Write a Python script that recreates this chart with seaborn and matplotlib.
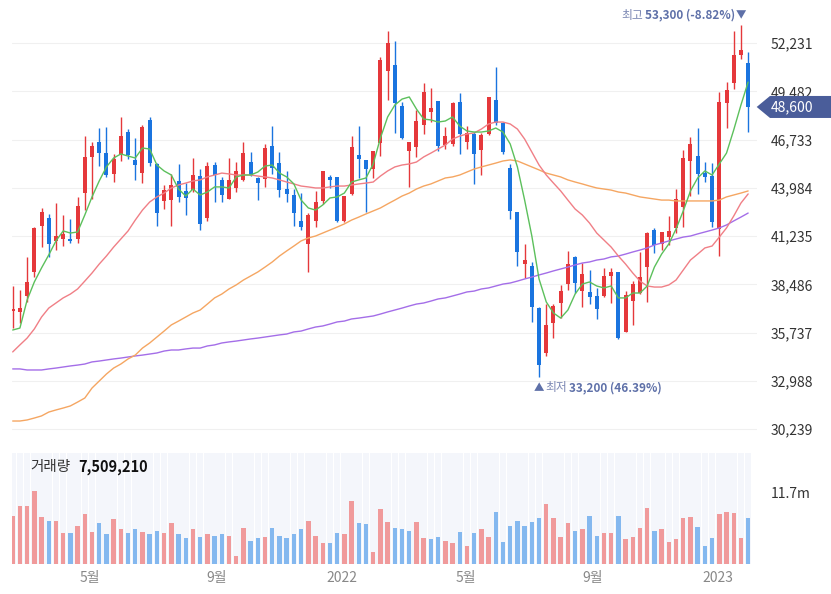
import numpy as np
import pandas as pd
import matplotlib
matplotlib.use("Agg")
import matplotlib.pyplot as plt
import matplotlib.dates as mdates
from matplotlib.patches import Polygon
import seaborn as sns

# 주봉 (2021-02-15 ~ 2023-01-30)
weeks = pd.date_range("2021-02-15", periods=103, freq="7D")

open_p = [36950, 36900, 37800, 39200, 41800, 42250, 40950, 41050, 41050, 41050,
          43700, 45750, 46600, 46000, 44800, 45850, 47150, 45600, 44850, 47850,
          45350, 43250, 43300, 44400, 43800, 43850, 44650, 42250, 45300, 44450,
          43350, 44000, 44450, 45450, 44550, 44500, 46350, 45400, 43950, 43600,
          42100, 40800, 42100, 43250, 44600, 44600, 42100, 43650, 45850, 45600,
          45050, 46550, 50650, 51000, 48650, 46100, 46300, 47550, 48300, 48950,
          46450, 46500, 48900, 46600, 47050, 46150, 47050, 49000, 47700, 45100,
          42600, 39650, 39550, 37150, 34550, 36300, 37400, 38500, 40050, 38100,
          38050, 37800, 37800, 38950, 39200, 35750, 37550, 38000, 39450, 41600,
          40800, 41200, 41700, 42900, 45500, 45800, 44850, 44650, 41650, 48850,
          49950, 51550, 51100]
high_p = [38400, 38150, 40050, 41750, 42850, 42500, 43100, 42450, 42200, 43450,
          46950, 46600, 47400, 47450, 45900, 48050, 47350, 46850, 47550, 48050,
          45400, 44150, 44800, 45350, 44250, 45700, 45050, 45450, 45450, 44600,
          45700, 45450, 46600, 46050, 44600, 46500, 47500, 46050, 44950, 43900,
          43700, 42550, 43800, 44950, 44700, 44600, 43500, 46950, 47500, 45600,
          46100, 51450, 52950, 52350, 48900, 46600, 48450, 49950, 49700, 48950,
          47450, 48900, 49400, 47500, 47150, 47100, 49150, 50900, 47750, 45350,
          42600, 40800, 39750, 37200, 37350, 37350, 38450, 40400, 40100, 39700,
          39300, 38300, 39400, 39400, 39200, 38100, 38700, 40350, 41450, 41700,
          41450, 42400, 43900, 46150, 46900, 47400, 45450, 45400, 49450, 50000,
          52950, 53300, 51750]
low_p = [36000, 36300, 37500, 38900, 40600, 40050, 40450, 40650, 40850, 40850,
         42700, 43350, 45250, 44600, 44300, 45500, 45650, 44450, 44250, 45250,
         41800, 42800, 41800, 43200, 42450, 43750, 41600, 42100, 43200, 43200,
         43350, 43750, 44400, 44650, 43300, 44050, 44800, 43450, 43200, 41800,
         41600, 39200, 41750, 43050, 44000, 42050, 42050, 43600, 44550, 42600,
         44550, 45800, 49000, 47100, 46750, 44050, 45750, 47050, 47750, 46100,
         46200, 46350, 45900, 46200, 44200, 44700, 47000, 47550, 45900, 42200,
         39550, 38850, 36350, 33200, 34400, 35400, 36550, 38150, 38000, 37200,
         37350, 36500, 37750, 37400, 35350, 35750, 36150, 37950, 37500, 40250,
         40450, 40750, 41400, 41750, 43500, 43650, 44300, 41750, 40100, 47400,
         49600, 51350, 47150]
close_p = [37100, 37150, 38600, 41700, 42600, 40800, 41250, 41350, 40950, 42950,
           45750, 46350, 46000, 44700, 45650, 46950, 45850, 45300, 47450, 45400,
           42550, 43850, 44150, 43450, 43400, 44700, 41950, 45250, 44700, 43600,
           44450, 44950, 46000, 44700, 44250, 46250, 45100, 43850, 43650, 42550,
           41750, 42450, 43200, 44950, 44450, 42100, 43500, 46300, 45650, 45050,
           46100, 51300, 52250, 48850, 46850, 46600, 47800, 49450, 48550, 46350,
           46950, 48850, 47050, 47100, 45900, 47000, 49150, 47700, 46050, 42650,
           40350, 39850, 37200, 33900, 36150, 37250, 38100, 39650, 38550, 39050,
           37750, 37100, 38950, 39200, 35400, 37900, 38500, 38900, 41400, 40750,
           41450, 41500, 43350, 45700, 46500, 44800, 44600, 42050, 48900, 49550,
           51550, 51850, 48600]

# 거래량 (백만 주)
volume_m = [7.88, 9.50, 9.50, 11.93, 7.72, 7.07, 7.07, 5.07, 5.07, 6.26,
            8.10, 5.29, 6.69, 4.86, 7.29, 5.67, 5.07, 5.67, 5.29, 4.86,
            5.45, 5.07, 6.69, 4.86, 4.26, 5.67, 4.42, 4.86, 4.64, 4.86,
            4.64, 1.40, 5.88, 3.83, 4.26, 4.42, 5.88, 4.64, 4.26, 4.86,
            5.67, 7.07, 4.64, 3.45, 3.45, 5.07, 4.86, 10.31, 6.69, 6.48,
            1.99, 8.91, 6.91, 5.88, 5.67, 5.45, 6.91, 4.26, 4.05, 4.42,
            3.83, 3.45, 5.29, 3.02, 5.07, 5.67, 4.42, 8.53, 3.61, 6.26,
            7.07, 6.26, 6.91, 7.50, 9.77, 7.50, 4.42, 6.69, 5.45, 5.67,
            7.88, 4.64, 5.07, 5.07, 7.88, 4.05, 4.42, 5.88, 9.12, 5.45,
            5.67, 3.61, 4.05, 7.50, 7.72, 6.04, 3.02, 4.26, 8.10, 8.53,
            8.31, 4.26, 7.51]
volume_now = 7509210

# 이동평균선 (5, 20, 60, 120주)
ma5 = [35880, 35990, 37590, 38620, 39420, 40160, 40960, 41530, 41410, 41470,
       42440, 43470, 44380, 45180, 45690, 45920, 45800, 45690, 46260, 46200,
       45290, 44950, 44720, 43920, 43520, 43920, 43580, 43750, 44040, 44040,
       43980, 44610, 44720, 44720, 44890, 45230, 45290, 44830, 44610, 44210,
       43290, 42840, 42720, 43010, 43410, 43470, 43690, 44320, 44440, 44550,
       45350, 46830, 48030, 48710, 49050, 49170, 48480, 47910, 47860, 47740,
       47800, 48030, 47510, 47230, 47170, 47170, 47230, 47400, 47170, 46490,
       45180, 43290, 41240, 38790, 37480, 36850, 36560, 37020, 37930, 38500,
       38620, 38390, 38280, 38390, 37710, 37710, 37990, 37990, 38390, 39470,
       40210, 40790, 41640, 42670, 43810, 44550, 44950, 44720, 45350, 45970,
       47290, 48710, 50020]
ma20 = [34630, 35030, 35420, 35940, 36620, 37130, 37420, 37710, 37930, 38220,
        38670, 39130, 39640, 40100, 40610, 41070, 41530, 42150, 42720, 43180,
        43470, 43690, 43980, 44150, 44260, 44380, 44440, 44610, 44720, 44830,
        44780, 44720, 44720, 44720, 44660, 44610, 44550, 44440, 44320, 44210,
        44090, 44040, 43980, 43980, 44040, 44090, 44090, 44150, 44210, 44260,
        44320, 44660, 44950, 45180, 45290, 45350, 45460, 45750, 45970, 46200,
        46430, 46770, 46940, 47060, 47120, 47340, 47630, 47740, 47740, 47630,
        47340, 46770, 46030, 45290, 44720, 44260, 43810, 43290, 42780, 42440,
        41980, 41410, 41010, 40610, 40100, 39640, 39130, 38670, 38390, 38330,
        38330, 38450, 38730, 39300, 39870, 40210, 40560, 40670, 41180, 41700,
        42380, 43120, 43640]
ma60 = [30690, 30690, 30750, 30860, 30980, 31200, 31320, 31430, 31550, 31770,
        32000, 32570, 32970, 33370, 33710, 33940, 34230, 34450, 34850, 35140,
        35480, 35820, 36170, 36390, 36620, 36850, 37020, 37360, 37710, 37930,
        38220, 38450, 38730, 38960, 39190, 39470, 39760, 40100, 40390, 40670,
        40960, 41130, 41240, 41410, 41580, 41750, 41930, 42150, 42320, 42500,
        42670, 42840, 43070, 43290, 43520, 43690, 43920, 44090, 44210, 44380,
        44550, 44610, 44720, 44890, 45060, 45180, 45290, 45400, 45520, 45580,
        45520, 45350, 45180, 45010, 44830, 44720, 44610, 44440, 44320, 44210,
        44090, 43980, 43920, 43860, 43750, 43690, 43580, 43470, 43410, 43350,
        43290, 43290, 43240, 43240, 43240, 43240, 43240, 43240, 43290, 43470,
        43580, 43690, 43810]
ma120 = [33660, 33660, 33600, 33600, 33600, 33660, 33710, 33770, 33830, 33880,
         33940, 34060, 34110, 34170, 34230, 34280, 34340, 34400, 34450, 34510,
         34570, 34680, 34740, 34740, 34800, 34850, 34850, 34970, 35030, 35140,
         35200, 35250, 35310, 35370, 35420, 35480, 35540, 35600, 35650, 35770,
         35820, 35940, 36050, 36110, 36220, 36340, 36390, 36510, 36560, 36620,
         36680, 36790, 36910, 37020, 37130, 37250, 37360, 37420, 37530, 37650,
         37710, 37820, 37930, 38050, 38100, 38220, 38280, 38390, 38500, 38560,
         38670, 38790, 38900, 39020, 39130, 39250, 39360, 39470, 39590, 39700,
         39760, 39870, 39930, 40050, 40100, 40210, 40330, 40440, 40560, 40730,
         40840, 40960, 41070, 41180, 41240, 41360, 41470, 41580, 41700, 41870,
         42100, 42320, 42550]

price_ticks = [30239, 32988, 35737, 38486, 41235, 43984, 46733, 49482, 52231]
month_ticks = ["2021-05-01", "2021-09-01", "2022-01-01", "2022-05-01", "2022-09-01", "2023-01-01"]
month_labels = ["5월", "9월", "2022", "5월", "9월", "2023"]
vol_tick = 11.7

RED, BLUE = "#e5383b", "#1a74df"
VRED, VBLUE = "#f09a9b", "#84b8ef"
ANN = "#5e70a8"

sns.set_theme(style="white")
plt.rcParams['font.family'] = ['Noto Sans CJK KR', 'DejaVu Sans']

W, H = 831, 594
fig = plt.figure(figsize=(W / 100, H / 100), dpi=100)
ax = fig.add_axes([11.7 / W, 1 - 440 / H, (757 - 11.7) / W, 435 / H])
axv = fig.add_axes([11.7 / W, 1 - 564.3 / H, (757 - 11.7) / W, 111.3 / H])

df = pd.DataFrame({"x": mdates.date2num(weeks), "open": open_p, "high": high_p,
                   "low": low_p, "close": close_p, "vol": volume_m,
                   "ma5": ma5, "ma20": ma20, "ma60": ma60, "ma120": ma120})
x = df["x"].values
xlim = (x[0] - 0.97, x[-1] + 8.6)

# 캔들
up = df["close"] >= df["open"]
ccol = np.where(up, RED, BLUE)
body_h = np.maximum((df["close"] - df["open"]).abs(), 70)
body_mid = (df["close"] + df["open"]) / 2
ax.vlines(x, df["low"], df["high"], colors=ccol, lw=1.0, zorder=2)
ax.bar(x, body_h, bottom=body_mid - body_h / 2, width=3.9, color=ccol, linewidth=0, zorder=3)

# 이동평균선
for col, c in [("ma120", "#a46ee8"), ("ma60", "#f5a662"), ("ma20", "#f07f86"), ("ma5", "#5cc05c")]:
    sns.lineplot(data=df, x="x", y=col, ax=ax, color=c, lw=1.0, estimator=None,
                 sort=False, legend=False, zorder=4)

ax.set_xlim(xlim)
ax.set_ylim(29607, 54415)
ax.yaxis.tick_right()
ax.set_yticks(price_ticks)
ax.set_yticklabels([f"{v:,}" for v in price_ticks])
ax.tick_params(axis="y", length=0, pad=10, labelsize=10, labelcolor="#333333")
ax.set_xticks([])
ax.set_xlabel("")
ax.set_ylabel("")
ax.grid(axis="y", color="#f0f0f0", lw=0.8)
ax.set_axisbelow(True)
for s in ax.spines.values():
    s.set_visible(False)

# 거래량
vtop = 18.03
prev = df["close"].shift(1).fillna(df["open"])
vcol = np.where(df["close"] >= prev, VRED, VBLUE)
axv.bar(x, [vtop] * len(x), width=6.4, color="#f4f6fb", linewidth=0, zorder=0)
axv.bar(x, df["vol"], width=4.3, color=vcol, linewidth=0, zorder=2)
axv.set_xlim(xlim)
axv.set_ylim(0, vtop)
axv.yaxis.tick_right()
axv.set_yticks([vol_tick])
axv.set_yticklabels([f"{vol_tick}m"])
axv.tick_params(axis="y", length=0, pad=10, labelsize=10, labelcolor="#333333")
axv.set_xticks(mdates.date2num(pd.to_datetime(month_ticks)))
axv.set_xticklabels(month_labels)
axv.tick_params(axis="x", length=0, pad=5, labelsize=10, labelcolor="#888888")
axv.set_xlabel("")
axv.set_ylabel("")
axv.grid(False)
for s in axv.spines.values():
    s.set_visible(False)

fig.text(30 / W, 1 - 467 / H, "거래량", fontsize=10.5, color="#333333", va="center")
fig.text(78 / W, 1 - 467 / H, f"{volume_now:,}", fontsize=10.5, color="#111111",
         va="center", weight="bold")

# 최고 / 최저 표시
last = close_p[-1]
i_hi = int(np.argmax(high_p))
i_lo = int(np.argmin(low_p))
hi, lo = high_p[i_hi], low_p[i_lo]
hi_txt = f"{hi:,} ({(last / hi - 1) * 100:.2f}%)"
lo_txt = f"{lo:,} ({(last / lo - 1) * 100:.2f}%)"

ax.annotate("▼", xy=(x[i_hi], 1 - 15 / H), xycoords=("data", "figure fraction"),
            ha="center", va="center", fontsize=7.5, color=ANN, annotation_clip=False)
t_hi = ax.annotate(hi_txt, xy=(x[i_hi], 1 - 15 / H), xycoords=("data", "figure fraction"),
                   xytext=(-6, 0), textcoords="offset pixels", ha="right", va="center",
                   fontsize=8.5, weight="bold", color=ANN, annotation_clip=False)
ax.annotate("▲", xy=(x[i_lo], 1 - 388 / H), xycoords=("data", "figure fraction"),
            ha="center", va="center", fontsize=7.5, color=ANN, annotation_clip=False)
t_lo = ax.annotate("최저", xy=(x[i_lo], 1 - 388 / H), xycoords=("data", "figure fraction"),
                   xytext=(6, 0), textcoords="offset pixels", ha="left", va="center",
                   fontsize=8.5, color="#7b87b3", annotation_clip=False)

fig.canvas.draw()
bb = t_hi.get_window_extent()
fig.text((bb.x0 - 2) / W, 1 - 15 / H, "최고", ha="right", va="center",
         fontsize=8.5, color="#7b87b3")
bb = t_lo.get_window_extent()
fig.text((bb.x1 + 2) / W, 1 - 388 / H, lo_txt, ha="left", va="center",
         fontsize=8.5, weight="bold", color=ANN)

# 현재가 라벨
ypix = ax.transData.transform((x[-1], last))[1]
yc = ypix / H
hh = 11 / H
pts = [(756.7 / W, yc), (770 / W, yc + hh), (1.0, yc + hh), (1.0, yc - hh), (770 / W, yc - hh)]
fig.add_artist(Polygon(pts, closed=True, transform=fig.transFigure,
                       facecolor="#4a5d9a", edgecolor="none", zorder=5))
fig.text(771 / W, yc, f"{last:,}", color="white", fontsize=10, va="center", ha="left", zorder=6)

fig.savefig("out.png", dpi=100)
